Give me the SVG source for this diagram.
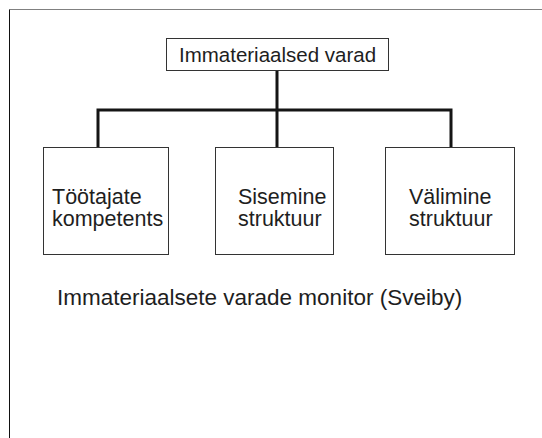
<svg xmlns="http://www.w3.org/2000/svg" width="542" height="438" viewBox="0 0 542 438">
  <style>
    .box { fill: #ffffff; stroke: #333333; stroke-width: 1; }
    .wire { fill: none; stroke: #151515; stroke-width: 3; stroke-linecap: square; }
    .lbl { font-family: "Liberation Sans", Arial, Helvetica, sans-serif; fill: #1e1e1e; font-size: 21.5px; }
  </style>
  <rect width="542" height="438" fill="#ffffff"/>
  <!-- page frame: top and left edges -->
  <line x1="9.5" y1="9.5" x2="542" y2="9.5" stroke="#808080" stroke-width="1"/>
  <line x1="9.5" y1="9.5" x2="9.5" y2="438" stroke="#111111" stroke-width="1"/>

  <g id="connectors">
    <path class="wire" d="M277,72 V110 M98,110 H451 M98,110 V146 M277,110 V146 M451,110 V146"/>
  </g>

  <g id="root">
    <rect class="box" x="166.5" y="38.5" width="222" height="32"/>
    <text class="lbl" x="277.5" y="62" font-size="20.5" text-anchor="middle" style="font-size:20.5px">Immateriaalsed varad</text>
  </g>

  <g id="competence">
    <rect class="box" x="43.5" y="147.5" width="125" height="107"/>
    <text class="lbl" x="52" y="204">Töötajate</text>
    <text class="lbl" x="52" y="226">kompetents</text>
  </g>

  <g id="internal">
    <rect class="box" x="215.5" y="147.5" width="118" height="107"/>
    <text class="lbl" x="238" y="204">Sisemine</text>
    <text class="lbl" x="238" y="226">struktuur</text>
  </g>

  <g id="external">
    <rect class="box" x="385.5" y="147.5" width="129" height="107"/>
    <text class="lbl" x="409" y="204">Välimine</text>
    <text class="lbl" x="409" y="226">struktuur</text>
  </g>

  <text class="lbl" x="57" y="305" style="font-size:22.5px">Immateriaalsete varade monitor (Sveiby)</text>
</svg>
